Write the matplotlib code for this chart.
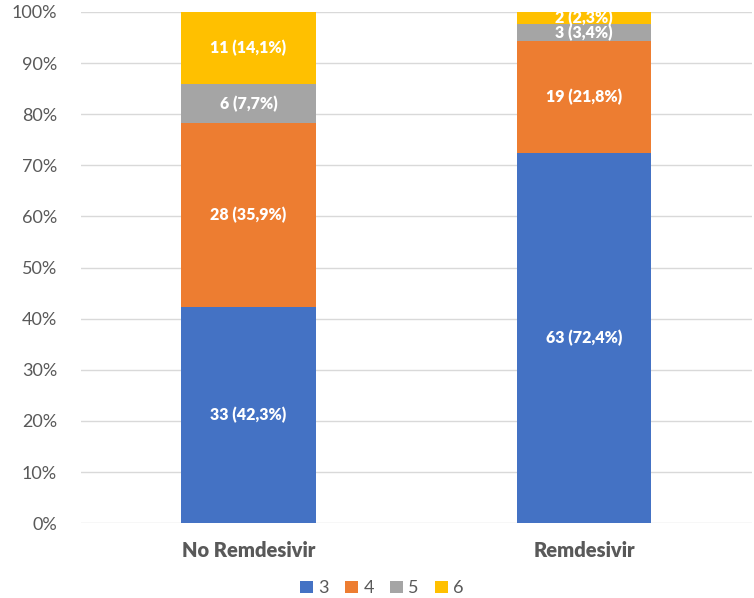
import matplotlib
matplotlib.use("Agg")
import matplotlib.pyplot as plt
import numpy as np

# dados
grupos = ["No Remdesivir", "Remdesivir"]
niveis = ["3", "4", "5", "6"]
contagens = {
    "3": [33, 63],
    "4": [28, 19],
    "5": [6, 3],
    "6": [11, 2],
}
cores = ["#4472C4", "#ED7D31", "#A5A5A5", "#FFC000"]

plt.rcParams["font.family"] = ["Lato", "DejaVu Sans"]

totais = np.array([sum(contagens[n][i] for n in niveis) for i in range(len(grupos))])

fig = plt.figure(figsize=(7.54, 5.98), dpi=100)
ax = fig.add_axes([0.107, 0.125, 0.89, 0.855])

x = np.arange(len(grupos))
base = np.zeros(len(grupos))
for nivel, cor in zip(niveis, cores):
    vals = np.array(contagens[nivel])
    pct = vals / totais * 100
    ax.bar(x, pct, bottom=base, width=0.4, color=cor, label=nivel, zorder=3)
    for xi, v, p, b in zip(x, vals, pct, base):
        txt = f"{v} ({p:.1f}%)".replace(".", ",")
        ax.text(xi, b + p / 2, txt, ha="center", va="center",
                color="white", fontsize=11.5, fontweight="heavy", zorder=4)
    base += pct

ax.set_xlim(-0.5, 1.5)
ax.set_ylim(0, 100)
ax.set_yticks(np.arange(0, 101, 10))
ax.set_yticklabels([f"{t}%" for t in range(0, 101, 10)])
ax.set_xticks(x)
ax.set_xticklabels(grupos, fontweight="heavy")
ax.tick_params(axis="y", length=0, labelsize=13, labelcolor="#595959", pad=17)
ax.tick_params(axis="x", length=0, labelsize=14.5, labelcolor="#595959", pad=13)
ax.grid(axis="y", color="#D9D9D9", linewidth=1, zorder=0)
for s in ax.spines.values():
    s.set_visible(False)

ax.legend(loc="upper center", bbox_to_anchor=(0.449, -0.08), ncol=4, frameon=False,
          fontsize=13, handlelength=0.7, handleheight=0.7, handletextpad=0.3,
          columnspacing=0.9, labelcolor="#595959")

plt.savefig("out.png", dpi=100)
plt.close()
